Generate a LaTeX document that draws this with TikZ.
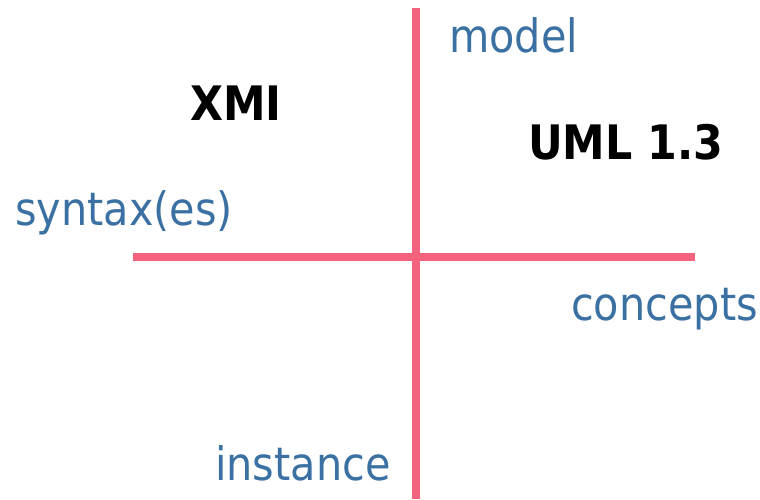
\documentclass[tikz,border=0pt]{standalone}
\usepackage{fontspec}
\setmainfont{DejaVu Sans Condensed}
\definecolor{axispink}{RGB}{244,98,126}
\definecolor{labelblue}{RGB}{58,112,162}
\tikzset{
  axis/.style={draw=axispink, line width=8pt},
  dimlabel/.style={anchor=base west, inner sep=0pt, text=labelblue, font=\fontsize{46}{50}\selectfont},
  term/.style={anchor=base west, inner sep=0pt, text=black, font=\fontsize{47.5}{52}\selectfont\bfseries},
}
\begin{document}
\begin{tikzpicture}[x=1pt,y=1pt]
\useasboundingbox (0,0) rectangle (760,499);
% axes
\coordinate (vtop) at (415.5,491);
\coordinate (vbot) at (415.5,0);
\coordinate (hl) at (133,242);
\coordinate (hr) at (695,242);
\draw[axis] (vtop) -- (vbot);
\draw[axis] (hl) -- (hr);
% axis labels
\node[dimlabel] (model) at (449,446) {model};
\node[dimlabel] (syntax) at (15,274) {syntax(es)};
\node[dimlabel] (concepts) at (571,179) {concepts};
\node[dimlabel] (instance) at (215,19) {instance};
% quadrant terms
\node[term] (xmi) at (190,378) {XMI};
\node[term] (uml) at (528,339) {UML 1.3};
\end{tikzpicture}
\end{document}
